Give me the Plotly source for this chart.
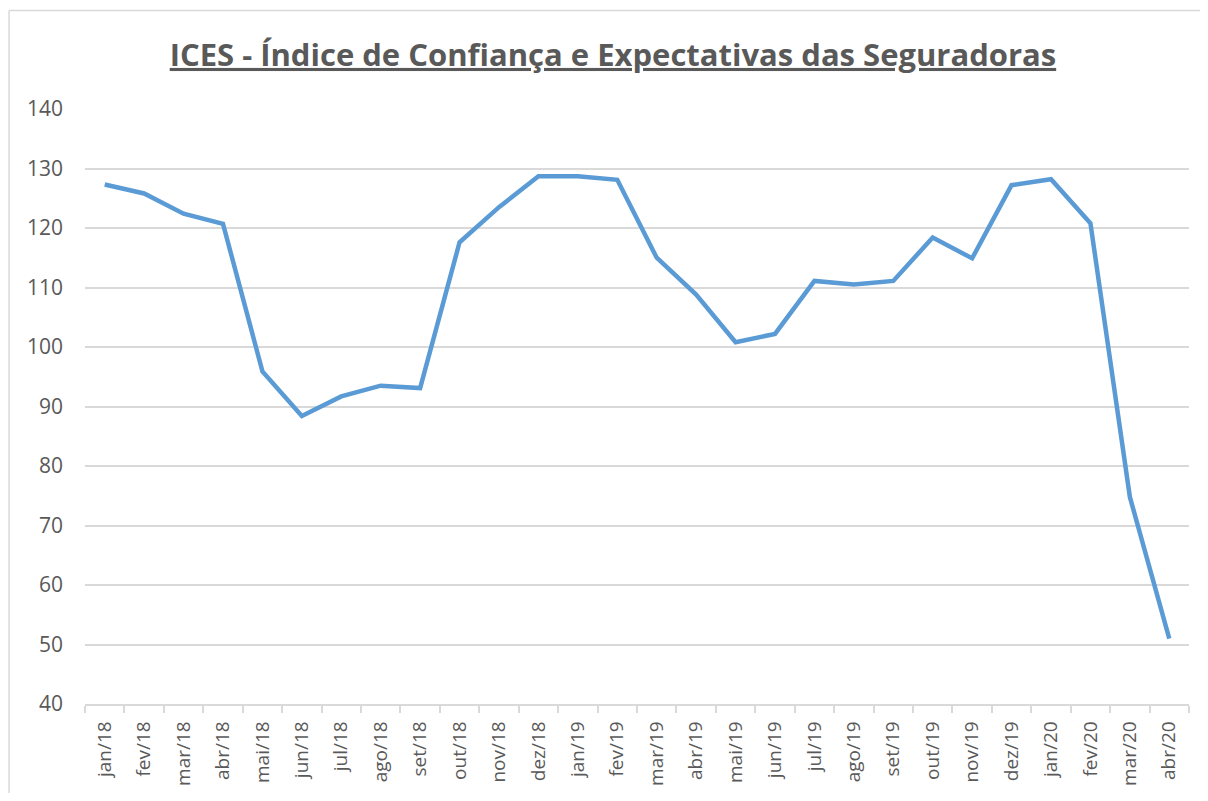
import plotly.graph_objects as go

months = ["jan/18", "fev/18", "mar/18", "abr/18", "mai/18", "jun/18", "jul/18", "ago/18",
          "set/18", "out/18", "nov/18", "dez/18", "jan/19", "fev/19", "mar/19", "abr/19",
          "mai/19", "jun/19", "jul/19", "ago/19", "set/19", "out/19", "nov/19", "dez/19",
          "jan/20", "fev/20", "mar/20", "abr/20"]
ices = [127.3, 125.8, 122.4, 120.7, 95.9, 88.4, 91.7, 93.5,
        93.1, 117.6, 123.5, 128.7, 128.7, 128.1, 115.0, 108.8,
        100.8, 102.2, 111.1, 110.5, 111.1, 118.4, 114.9, 127.2,
        128.2, 120.8, 74.8, 51.0]
y_ticks = [40, 50, 60, 70, 80, 90, 100, 110, 120, 130, 140]

title_text = "ICES - Índice de Confiança e Expectativas das Seguradoras"
text_color = "#595959"
grid_color = "#d9d9d9"
font_family = "Open Sans"

fig = go.Figure()
fig.add_trace(go.Scatter(
    x=months, y=ices, mode="lines",
    line=dict(color="#5b9bd5", width=4.5),
    hoverinfo="x+y", showlegend=False,
))

fig.update_layout(
    width=1192, height=785,
    margin=dict(l=77, r=11, t=101, b=89, autoexpand=False),
    paper_bgcolor="white", plot_bgcolor="white",
    font=dict(family=font_family, color=text_color, size=21),
    title=dict(
        text="<b><span style='text-decoration:underline'>" + title_text + "</span></b>",
        x=0.5075, xref="container", xanchor="center",
        y=0.94, yref="container", yanchor="middle",
        font=dict(family=font_family, size=31, color=text_color),
    ),
    xaxis=dict(
        type="category", tickangle=-90, range=[-0.5, len(months) - 0.5],
        showgrid=False, showline=True, linecolor=grid_color, linewidth=1.5,
        ticks="outside", tickson="boundaries", ticklen=7, tickcolor=grid_color, tickwidth=1.5,
        ticklabelstandoff=8, automargin=False,
        tickfont=dict(size=19, color=text_color, family=font_family),
        zeroline=False, fixedrange=True,
    ),
    yaxis=dict(
        range=[40, 140], tickvals=y_ticks,
        showgrid=True, gridcolor=grid_color, gridwidth=1.5,
        showline=False, zeroline=False, ticks="",
        ticklabelstandoff=21, automargin=False,
        tickfont=dict(size=21, color=text_color, family=font_family),
        fixedrange=True,
    ),
    shapes=[
        dict(type="line", xref="paper", yref="paper",
             x0=-0.0688, x1=1.01, y0=1.1655, y1=1.1655,
             line=dict(color=grid_color, width=1.5), layer="below"),
        dict(type="line", xref="paper", yref="paper",
             x0=-0.0688, x1=-0.0688, y0=-0.4, y1=1.1655,
             line=dict(color=grid_color, width=1.5), layer="below"),
    ],
)

fig.write_html("out.html")
